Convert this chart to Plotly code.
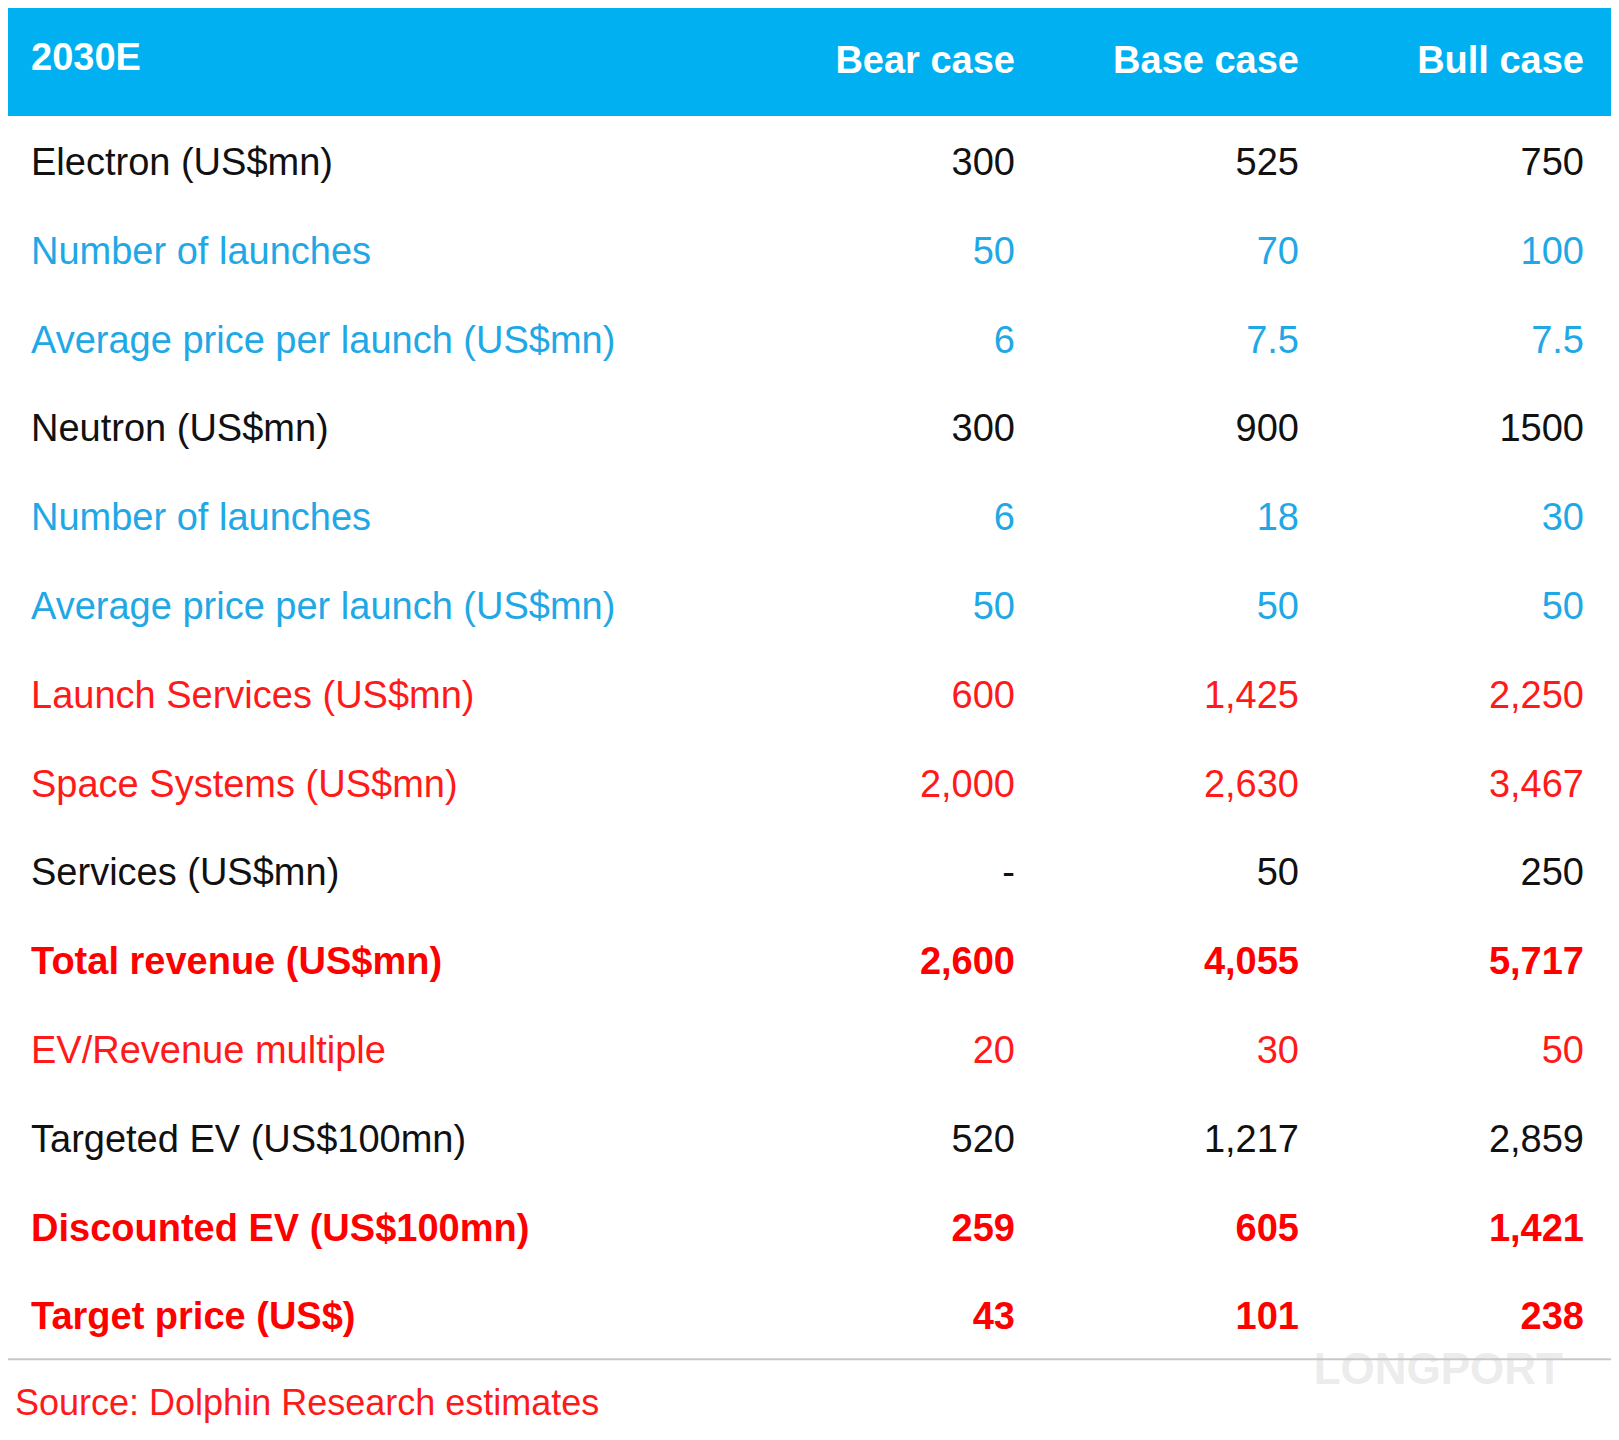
import plotly.graph_objects as go

header = ["2030E", "Bear case", "Base case", "Bull case"]
labels = ["Electron (US$mn)", "Number of launches", "Average price per launch (US$mn)",
          "Neutron (US$mn)", "Number of launches", "Average price per launch (US$mn)",
          "Launch Services (US$mn)", "Space Systems (US$mn)", "Services (US$mn)",
          "Total revenue (US$mn)", "EV/Revenue multiple", "Targeted EV (US$100mn)",
          "Discounted EV (US$100mn)", "Target price (US$)"]
bear = ["300", "50", "6", "300", "6", "50", "600", "2,000", "-", "2,600", "20", "520", "259", "43"]
base = ["525", "70", "7.5", "900", "18", "50", "1,425", "2,630", "50", "4,055", "30", "1,217", "605", "101"]
bull = ["750", "100", "7.5", "1500", "30", "50", "2,250", "3,467", "250", "5,717", "50", "2,859", "1,421", "238"]
styles = ["k", "b", "b", "k", "b", "b", "r", "r", "k", "R", "r", "k", "R", "R"]

cmap = {"k": "#111111", "b": "#1fa8e6", "r": "#ff1a1a", "R": "#ff0000"}
colors = [cmap[s] for s in styles]
FONT = "Liberation Sans, Arial"
FS = 38

W, H = 1619, 1440
HEADER_H = 108
ROW_H = 88.8
TEXT_SHIFT = 5
TABLE_RIGHT = 1608
LABEL_X = 23
COL_X = [1007, 1291, 1576]

def b(v, s):
    return f"<b>{v}</b>" if s == "R" else v

row_y = [HEADER_H + TEXT_SHIFT + ROW_H * (i + 0.5) for i in range(len(labels))]
table_bottom = HEADER_H + ROW_H * len(labels)

fig = go.Figure()
fig.add_shape(type="rect", x0=0, x1=TABLE_RIGHT, y0=0, y1=HEADER_H,
              fillcolor="#00b0f0", line_width=0, layer="below")
fig.add_shape(type="line", x0=0, x1=TABLE_RIGHT, y0=table_bottom, y1=table_bottom,
              line=dict(color="#c8c8c8", width=2))

fig.add_trace(go.Scatter(x=[LABEL_X], y=[52.5], mode="text", text=[f"<b>{header[0]}</b>"],
                         textposition="middle right",
                         textfont=dict(color="white", size=FS, family=FONT)))
fig.add_trace(go.Scatter(x=COL_X, y=[55] * 3, mode="text",
                         text=[f"<b>{h}</b>" for h in header[1:]], textposition="middle left",
                         textfont=dict(color="white", size=FS, family=FONT)))
fig.add_trace(go.Scatter(x=[LABEL_X] * len(labels), y=row_y, mode="text",
                         text=[b(l, s) for l, s in zip(labels, styles)],
                         textposition="middle right",
                         textfont=dict(color=colors, size=FS, family=FONT)))
for cx, col in zip(COL_X, [bear, base, bull]):
    fig.add_trace(go.Scatter(x=[cx] * len(col), y=row_y, mode="text",
                             text=[b(v, s) for v, s in zip(col, styles)],
                             textposition="middle left",
                             textfont=dict(color=colors, size=FS, family=FONT)))

fig.add_trace(go.Scatter(x=[7], y=[1398], mode="text",
                         text=["Source: Dolphin Research estimates"], textposition="middle right",
                         textfont=dict(color="#ff1a1a", size=36, family=FONT)))
fig.add_trace(go.Scatter(x=[1555], y=[1365], mode="text", text=["<b>LONGPORT</b>"],
                         textposition="middle left",
                         textfont=dict(color="rgba(190,190,190,0.3)", size=44, family=FONT)))

fig.update_xaxes(range=[0, W], visible=False, fixedrange=True)
fig.update_yaxes(range=[H, 0], visible=False, fixedrange=True)
fig.update_layout(width=W, height=H, margin=dict(l=0, r=0, t=0, b=0),
                  paper_bgcolor="white", plot_bgcolor="white", showlegend=False)
fig.write_html("out.html")
